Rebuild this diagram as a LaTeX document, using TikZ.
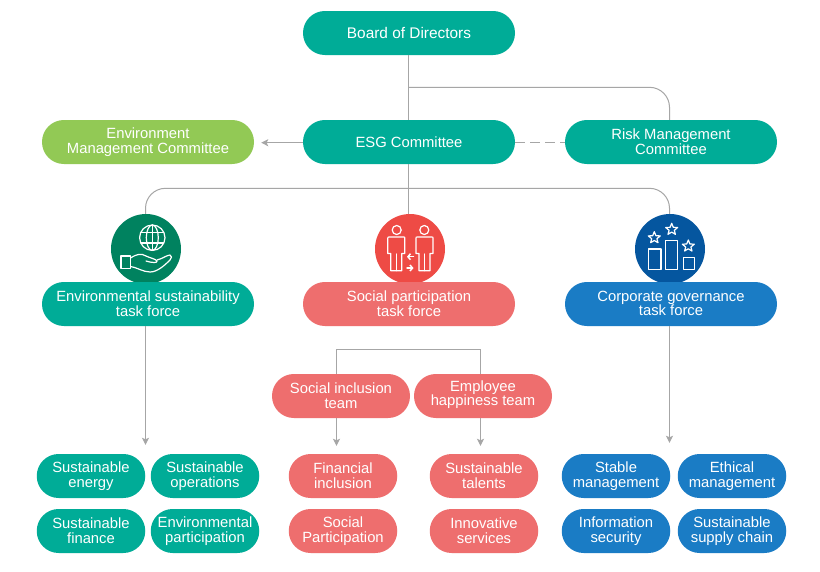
\documentclass[tikz,border=0pt]{standalone}
\usepackage{fontspec}
\setmainfont{Liberation Sans}
\usetikzlibrary{arrows.meta}
\definecolor{teal1}{HTML}{00AC97}
\definecolor{leaf}{HTML}{92C955}
\definecolor{coral}{HTML}{EE6E6E}
\definecolor{azure}{HTML}{1A7CC5}
\definecolor{forest}{HTML}{00825F}
\definecolor{tomato}{HTML}{EE4B45}
\definecolor{navy1}{HTML}{05569F}
\definecolor{wire}{HTML}{A6A6A6}
\tikzset{
  x=1pt,y=-1pt,
  pill/.style={rounded corners=21.9pt,minimum height=44pt,inner sep=0pt,align=center,text=white,
    font=\fontsize{14.8}{14.6}\selectfont,
    execute at begin node={\rule{0pt}{12.5pt}},
    execute at end node={\rule[-1.3pt]{0pt}{1.3pt}}},
  lifted/.style={execute at end node={\rule[-5.9pt]{0pt}{5.9pt}}},
  large/.style={pill,minimum width=212pt},
  mid/.style={pill,minimum width=138pt},
  small/.style={pill,minimum width=108.5pt},
  disc/.style={circle,minimum size=70pt,inner sep=0pt},
  wireline/.style={draw=wire,line width=1pt},
  tip/.style={wireline,-{Stealth[length=7pt,width=7pt,inset=1.5pt]}},
  glyph/.style={draw=white,line width=1.2pt,line join=round,line cap=round},
}
\begin{document}
\begin{tikzpicture}
\useasboundingbox[fill=white] (0,0) rectangle (820,571);

% upper tier
\node[large,fill=teal1,font=\fontsize{15.4}{14.6}\selectfont] (board) at (409,33) {Board of Directors};
\node[large,fill=teal1] (esg) at (409,142) {ESG Committee};
\node[large,fill=leaf] (envc) at (148,142) {Environment\\Management Committee};
\node[large,fill=teal1] (risk) at (671,142) {Risk Management\\Committee};

% icon discs
\node[disc,fill=forest] (discenv) at (146,249) {};
\node[disc,fill=tomato] (discsoc) at (410,249) {};
\node[disc,fill=navy1] (discgov) at (670,249) {};

% task forces
\node[large,fill=teal1] (tfenv) at (148,304) {Environmental sustainability\\task force};
\node[large,fill=coral] (tfsoc) at (409,304) {Social participation\\task force};
\node[large,fill=azure] (tfgov) at (671,304) {Corporate governance\\task force};

% teams
\node[mid,fill=coral] (incl) at (341,396) {Social inclusion\\team};
\node[mid,fill=coral,lifted] (happy) at (483,396) {Employee\\happiness team};

% leaf units
\node[small,fill=teal1] (u1) at (91,476) {Sustainable\\energy};
\node[small,fill=teal1] (u2) at (205,476) {Sustainable\\operations};
\node[small,fill=teal1] (u3) at (91,531) {Sustainable\\finance};
\node[small,fill=teal1] (u4) at (205,531) {Environmental\\participation};
\node[small,fill=coral] (u5) at (343,476) {Financial\\inclusion};
\node[small,fill=coral] (u6) at (484,476) {Sustainable\\talents};
\node[small,fill=coral] (u7) at (343,531) {Social\\Participation};
\node[small,fill=coral] (u8) at (484,531) {Innovative\\services};
\node[small,fill=azure] (u9) at (616,476) {Stable\\management};
\node[small,fill=azure] (u10) at (732,476) {Ethical\\management};
\node[small,fill=azure] (u11) at (616,531) {Information\\security};
\node[small,fill=azure] (u12) at (732,531) {Sustainable\\supply chain};

% junction points of the branching lines
\coordinate (riskbranch) at (408.5,87.3);
\coordinate (taskbranch) at (408.5,188.3);
\coordinate (teambar) at (408.5,349.5);

% connectors
\draw[wireline] ([xshift=-.5pt]board.south) -- ([xshift=-.5pt]esg.north);
\draw[wireline,rounded corners=20pt] (riskbranch) -| ([xshift=-1.5pt]risk.north);
\draw[tip,shorten >=7pt] ([yshift=-.7pt]esg.west) -- ([yshift=-.7pt]envc.east);
\draw[wireline,dash pattern=on 10pt off 5pt] ([yshift=-.7pt]esg.east) -- ([yshift=-.7pt]risk.west);
\draw[wireline] ([xshift=-.5pt]esg.south) -- ([xshift=-.5pt]esg.south |- discsoc.north);
\draw[wireline,rounded corners=20pt] ([xshift=-.5pt]discenv.north) |- (taskbranch) -| ([xshift=-.5pt]discgov.north);
\draw[tip,shorten >=9pt] ([xshift=-.5pt]discenv |- tfenv.south) -- ([xshift=-.5pt]discenv |- u1.north);
\draw[tip,shorten >=11pt] ([xshift=-.5pt]discgov |- tfgov.south) -- ([xshift=-.5pt]discgov |- u9.north);
\draw[wireline] ([xshift=-4.5pt]incl.north) |- (teambar) -| ([xshift=-2.5pt]happy.north);
\draw[tip,shorten >=8pt] ([xshift=-4.5pt]incl.south) -- ([xshift=-6.5pt]u5.north);
\draw[tip,shorten >=8pt] ([xshift=-2.5pt]happy.south) -- ([xshift=-3.5pt]u6.north);

% globe held in a hand
\begin{scope}[glyph]
  \draw (152.3,237.7) circle (12.7pt);
  \draw (152.3,237.7) ellipse (6pt and 12.7pt);
  \draw (152.3,225) -- (152.3,250.4);
  \draw (141,232.5) -- (163.6,232.5);
  \draw (141,243) -- (163.6,243);
  \draw (121,256) rectangle (130.5,268.5);
  \draw (130.5,258) .. controls (137,254) and (141,253) .. (146,256)
        .. controls (150,258) and (156,259) .. (157,261)
        .. controls (158,263) and (152,263) .. (146,261);
  \draw (157,260) .. controls (162,259) and (167,255) .. (170,255)
        .. controls (172,256) and (172,258) .. (170,260)
        .. controls (164,266) and (157,272) .. (150,272)
        .. controls (143,272) and (136,267) .. (130.5,266.5);
\end{scope}

% two figures with exchange arrows
\begin{scope}[glyph]
  \draw (396.7,230) circle (4.5pt);
  \draw (424.3,230) circle (4.5pt);
  \foreach \fx in {396.3,424.5}{
    \draw (\fx-7,237) -- (\fx+7,237) .. controls (\fx+8.5,237) .. (\fx+8.5,238.5)
      -- (\fx+8.5,253.5) -- (\fx+5.5,253.5) -- (\fx+5.5,270.7) -- (\fx-5.5,270.7) -- (\fx-5.5,253.5)
      -- (\fx-8.5,253.5) -- (\fx-8.5,238.5) .. controls (\fx-8.5,237) .. (\fx-7,237) -- cycle;
    \draw (\fx,254) -- (\fx,270.7);
  }
  \draw[line width=1.5pt,-{Straight Barb[length=2.5pt,width=6pt]}] (413.5,256.7) -- (407,256.7);
  \draw[line width=1.5pt,-{Straight Barb[length=2.5pt,width=6pt]}] (407,268) -- (413.5,268);
\end{scope}

% ranked bars with stars
\begin{scope}[glyph]
  \draw (648.3,249) rectangle (661,269.3);
  \draw (665.3,240.7) rectangle (677.3,269.3);
  \draw (683.3,257.3) rectangle (694.3,269.3);
  \foreach \cx/\cy in {654.3/237.7, 671.7/229.3, 688.3/246}{
    \draw (\cx,\cy-6) -- (\cx+1.6,\cy-2) -- (\cx+6,\cy-1.8) -- (\cx+2.6,\cy+1) -- (\cx+3.7,\cy+5)
      -- (\cx,\cy+2.8) -- (\cx-3.7,\cy+5) -- (\cx-2.6,\cy+1) -- (\cx-6,\cy-1.8) -- (\cx-1.6,\cy-2) -- cycle;
  }
\end{scope}
\end{tikzpicture}
\end{document}
